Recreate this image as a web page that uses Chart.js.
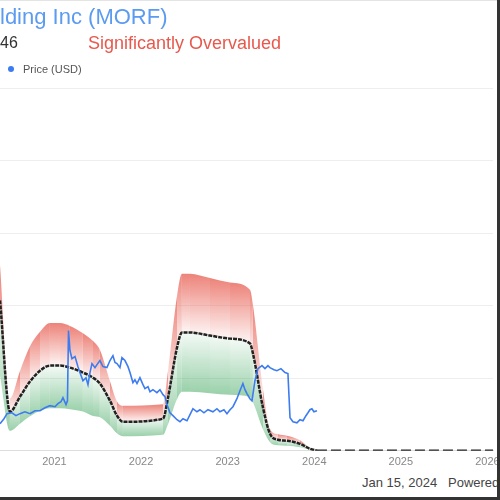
<!DOCTYPE html>
<html>
<head>
<meta charset="utf-8">
<script src="https://cdn.jsdelivr.net/npm/chart.js@4.4.0/dist/chart.umd.min.js"></script>
<style>
  body { margin: 0; background: #fff; font-family: "Liberation Sans", Arial, sans-serif; }
  #frame { position: relative; width: 497px; height: 497px; overflow: hidden;
           border-right: 3px solid #333; border-bottom: 3px solid #333; background: #fff; }
  #frame canvas { position: absolute; left: 0; top: 0; }
  .topline { position: absolute; left: 0; top: 0; width: 497px; height: 1px; background: #e4e4e4; }
  .txt { position: absolute; white-space: nowrap; }
  .title { left: 0; top: 4px; font-size: 22px; line-height: 26px; color: #5b9bf0; }
  .price { left: 0; top: 34px; font-size: 16px; line-height: 18px; color: #333; }
  .status { left: 88px; top: 33px; font-size: 18px; line-height: 20px; color: #e8584c; }
  .legend { left: 8px; top: 62px; font-size: 11px; line-height: 14px; color: #555; }
  .legend .dot { display: inline-block; width: 6px; height: 6px; border-radius: 3px;
                 background: #3d7cf0; margin-right: 9px; vertical-align: 1px; }
  .footer { left: 362px; top: 475px; font-size: 13px; line-height: 16px; color: #444; }
</style>
</head>
<body>
<div id="frame">
  <div class="topline"></div>
  <canvas id="chart" width="510" height="474"></canvas>
  <div class="txt title">lding Inc (MORF)</div>
  <div class="txt price">46</div>
  <div class="txt status">Significantly Overvalued</div>
  <div class="txt legend"><span class="dot"></span>Price (USD)</div>
  <div class="txt footer">Jan 15, 2024 &nbsp; Powered by GuruFocus</div>
</div>
<script>
// eixo x em anos decimais (sem adaptador de datas)
const yearTicks = [2021, 2022, 2023, 2024, 2025, 2026];
const valueTicks = [0, 50, 100, 150, 200, 250];

// GF Value e faixas superior / inferior
const gfYears = [2020.371, 2020.486, 2020.602, 2020.717, 2020.833, 2020.948, 2021.064, 2021.179,
  2021.329, 2021.445, 2021.525, 2021.641, 2021.722, 2021.791, 2022.253, 2022.311, 2022.415,
  2022.472, 2022.565, 2022.796, 2023.027, 2023.258, 2023.292, 2023.408, 2023.489, 2023.581,
  2023.685, 2023.835, 2023.950, 2024.031];
const gfValue = [103.6, 26.9, 37.3, 47.7, 55.2, 58.7, 58.7, 57.3, 53.9, 50.4, 46.3, 34.5, 24.2,
  20.0, 22.1, 36.6, 71.1, 81.5, 81.5, 79.4, 77.3, 73.9, 67.0, 29.7, 11.7, 7.6, 6.9, 4.8, 1.4, 0];
const gfUpper = [127.8, 36, 55, 72, 82, 88, 88, 86, 81, 75.6, 69.5, 48, 34, 31, 32, 55, 106.7,
  122, 122, 119, 116, 110.9, 100.5, 42, 15, 11.4, 10.4, 7.2, 2.1, 0];
const gfLower = [51.8, 13.8, 18.7, 23.8, 27.6, 29.3, 29.3, 28.7, 27, 24, 23.1, 17.3, 12.1, 10,
  11, 18.3, 35.5, 40.7, 40.7, 39.7, 38.6, 37, 33.5, 14.8, 5.9, 3.8, 3.5, 2.4, 0.7, 0];

// projeção futura (tracejada)
const futureYears = [2024.031, 2026.064];
const futureValue = [0, 0];

// preço (USD)
const priceYears = [2020.371, 2020.417, 2020.452, 2020.509, 2020.555, 2020.602, 2020.659, 2020.717,
  2020.775, 2020.833, 2020.890, 2020.948, 2021.006, 2021.040, 2021.075, 2021.098, 2021.133,
  2021.150, 2021.162, 2021.179, 2021.202, 2021.237, 2021.271, 2021.294, 2021.329, 2021.364,
  2021.387, 2021.410, 2021.433, 2021.468, 2021.491, 2021.525, 2021.560, 2021.606, 2021.641,
  2021.675, 2021.699, 2021.722, 2021.756, 2021.779, 2021.814, 2021.849, 2021.872, 2021.906,
  2021.929, 2021.953, 2021.987, 2022.022, 2022.045, 2022.080, 2022.103, 2022.137, 2022.183,
  2022.218, 2022.253, 2022.276, 2022.299, 2022.334, 2022.368, 2022.415, 2022.449, 2022.484,
  2022.530, 2022.565, 2022.599, 2022.645, 2022.680, 2022.726, 2022.772, 2022.830, 2022.876,
  2022.911, 2022.957, 2022.992, 2023.027, 2023.061, 2023.107, 2023.142, 2023.176, 2023.200,
  2023.223, 2023.257, 2023.281, 2023.315, 2023.350, 2023.396, 2023.431, 2023.465, 2023.488,
  2023.535, 2023.569, 2023.615, 2023.662, 2023.696, 2023.708, 2023.720, 2023.754, 2023.800,
  2023.835, 2023.870, 2023.904, 2023.927, 2023.950, 2023.973, 2023.996, 2024.031];
const priceValue = [18.6, 22.1, 25.6, 26.2, 24.2, 25.6, 26.9, 25.6, 27.6, 27.6, 29.7, 31.1, 30.4,
  32.5, 33.8, 36.6, 31.8, 34.5, 82.9, 69.1, 63.5, 64.9, 58.0, 53.9, 48.3, 50.4, 45.6, 53.9, 60.1,
  57.3, 59.4, 62.2, 58.0, 57.3, 62.2, 65.6, 60.8, 60.1, 57.3, 64.2, 62.2, 58.0, 53.9, 47.0, 49.0,
  46.3, 50.4, 45.6, 42.8, 44.2, 40.7, 42.1, 40.1, 42.1, 38.7, 37.3, 31.8, 26.2, 24.2, 21.4, 20.0,
  22.1, 20.7, 24.9, 29.0, 26.9, 28.3, 26.2, 28.3, 26.9, 29.0, 26.9, 28.3, 25.6, 28.3, 30.4, 35.9,
  41.4, 46.3, 42.1, 39.4, 35.9, 34.5, 48.3, 56.6, 58.7, 56.6, 58.7, 57.3, 55.9, 55.2, 56.6, 53.9,
  53.2, 38.0, 22.8, 20.0, 19.3, 21.4, 20.7, 24.2, 26.2, 28.3, 29.0, 26.9, 27.6];

const toPoints = (xs, ys) => xs.map((x, i) => ({ x: x, y: ys[i] }));

// gradiente de cada trecho da faixa, medido entre a borda e a linha GF Value
const bandFill = (rgb, topAlpha, bottomAlpha) => (sctx) => {
  const chart = sctx.chart;
  const gf = chart.getDatasetMeta(1).data;
  const a = gf[sctx.p0DataIndex];
  const b = gf[sctx.p1DataIndex];
  const mid = `rgba(${rgb},${(topAlpha + bottomAlpha) / 2})`;
  if (!a || !b) return mid;
  const ys = [sctx.p0.y, sctx.p1.y, a.y, b.y];
  const top = Math.min(...ys);
  const bottom = Math.max(...ys);
  if (!isFinite(top) || !isFinite(bottom) || bottom - top < 1) return mid;
  const g = chart.ctx.createLinearGradient(0, top, 0, bottom);
  g.addColorStop(0, `rgba(${rgb},${topAlpha})`);
  g.addColorStop(1, `rgba(${rgb},${bottomAlpha})`);
  return g;
};

new Chart(document.getElementById("chart"), {
  type: "line",
  data: {
    datasets: [
      {
        label: "Upper",
        data: toPoints(gfYears, gfUpper),
        borderWidth: 0,
        pointRadius: 0,
        cubicInterpolationMode: "monotone",
        backgroundColor: "rgba(232,100,88,0.4)",
        segment: { backgroundColor: bandFill("232,100,88", 0.8, 0.06) },
        fill: "+1",
        order: 2,
      },
      {
        label: "GF Value",
        data: toPoints(gfYears, gfValue),
        borderColor: "#222",
        borderWidth: 2.5,
        borderDash: [4, 1],
        pointRadius: 0,
        cubicInterpolationMode: "monotone",
        fill: false,
        order: 1,
      },
      {
        label: "Lower",
        data: toPoints(gfYears, gfLower),
        borderWidth: 0,
        pointRadius: 0,
        cubicInterpolationMode: "monotone",
        backgroundColor: "rgba(70,170,100,0.3)",
        segment: { backgroundColor: bandFill("70,170,100", 0.06, 0.55) },
        fill: "-1",
        order: 2,
      },
      {
        label: "Price (USD)",
        data: toPoints(priceYears, priceValue),
        borderColor: "#3d7cf0",
        borderWidth: 1.6,
        pointRadius: 0,
        tension: 0,
        fill: false,
        order: 0,
      },
      {
        label: "Future",
        data: toPoints(futureYears, futureValue),
        borderColor: "#222",
        borderWidth: 2.5,
        borderDash: [10, 4],
        pointRadius: 0,
        fill: false,
        order: 1,
      },
    ],
  },
  options: {
    responsive: false,
    animation: false,
    layout: { padding: { top: 88, right: 17, left: 0, bottom: 0 } },
    plugins: { legend: { display: false }, tooltip: { enabled: false } },
    scales: {
      x: {
        type: "linear",
        min: 2020.371,
        max: 2026.064,
        afterBuildTicks: (s) => { s.ticks = yearTicks.map((v) => ({ value: v })); },
        ticks: {
          callback: (v) => String(v),
          font: { size: 11, family: "Liberation Sans, Arial, sans-serif" },
          color: "#888",
          padding: 5,
          maxRotation: 0,
          autoSkip: false,
        },
        grid: { display: false, drawTicks: false },
        border: { color: "#dddddd" },
      },
      y: {
        min: 0,
        max: 250,
        afterBuildTicks: (s) => { s.ticks = valueTicks.map((v) => ({ value: v })); },
        ticks: { display: false },
        grid: { color: "#eeeeee", drawTicks: false },
        border: { display: false },
      },
    },
  },
});
</script>
</body>
</html>
